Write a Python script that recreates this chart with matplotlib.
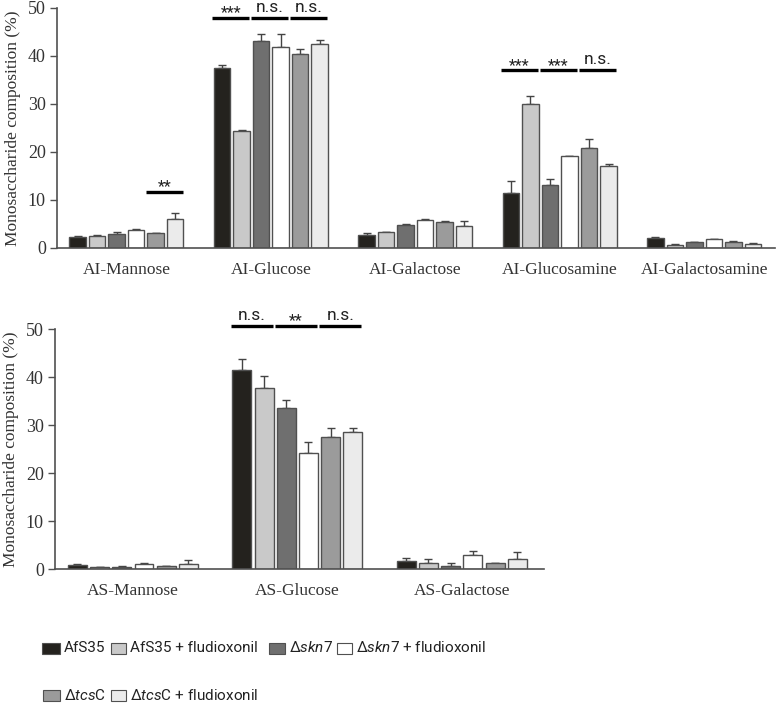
import matplotlib
matplotlib.use("Agg")
import matplotlib.pyplot as plt
import numpy as np
from matplotlib.patches import Rectangle

# ---- data ----
strains = ["AfS35", "AfS35 + fludioxonil", "Δskn7", "Δskn7 + fludioxonil",
           "ΔtcsC", "ΔtcsC + fludioxonil"]
strain_labels = ["AfS35", "AfS35 + fludioxonil", r"Δ$\it{skn}$7",
                 r"Δ$\it{skn}$7 + fludioxonil", r"Δ$\it{tcs}$C",
                 r"Δ$\it{tcs}$C + fludioxonil"]
colors = ["#24221e", "#c9c9c9", "#6f6f6f", "#ffffff", "#9b9b9b", "#ebebeb"]

ai_sugars = ["AI-Mannose", "AI-Glucose", "AI-Galactose", "AI-Glucosamine",
             "AI-Galactosamine"]
ai_mean = [[2.3, 2.4, 2.9, 3.7, 3.05, 6.1],
           [37.5, 24.3, 43.1, 41.9, 40.4, 42.4],
           [2.8, 3.3, 4.85, 5.75, 5.4, 4.6],
           [11.4, 30.0, 13.2, 19.1, 20.8, 17.1],
           [2.15, 0.7, 1.2, 1.9, 1.2, 0.9]]
ai_err = [[0.1, 0.3, 0.5, 0.2, 0.15, 1.25],
          [0.6, 0.2, 1.4, 2.7, 1.1, 1.0],
          [0.4, 0.05, 0.15, 0.3, 0.3, 1.0],
          [2.6, 1.6, 1.2, 0.15, 1.9, 0.3],
          [0.2, 0.1, 0.1, 0.07, 0.2, 0.2]]

as_sugars = ["AS-Mannose", "AS-Glucose", "AS-Galactose"]
as_mean = [[0.83, 0.35, 0.5, 1.0, 0.6, 1.05],
           [41.5, 37.8, 33.6, 24.2, 27.4, 28.5],
           [1.6, 1.25, 0.7, 2.85, 1.25, 2.1]]
as_err = [[0.3, 0.05, 0.15, 0.25, 0.1, 0.8],
          [2.3, 2.4, 1.7, 2.3, 2.0, 0.9],
          [0.6, 0.8, 0.5, 0.8, 0.1, 1.4]]

# (group, pair, label, height)
ai_sig = [(0, 2, "**", 11.7), (1, 0, "***", 47.9), (1, 1, "n.s.", 47.9),
          (1, 2, "n.s.", 47.9), (3, 0, "***", 37.0), (3, 1, "***", 37.0),
          (3, 2, "n.s.", 37.0)]
as_sig = [(1, 0, "n.s.", 50.6), (1, 1, "**", 50.6), (1, 2, "n.s.", 50.6)]

plt.rcParams["mathtext.fontset"] = "custom"
plt.rcParams["mathtext.it"] = "Roboto:italic"
plt.rcParams["mathtext.rm"] = "Roboto"

serif = ["Liberation Serif", "DejaVu Serif"]
sans = ["Roboto", "DejaVu Sans"]
txt = "#333333"
edge = "#505050"

pitch = 0.135
width = 0.115


def draw_panel(ax, sugars, mean, err, sig, xlim):
    mean = np.array(mean)
    err = np.array(err)
    centers = np.arange(len(sugars))
    for j in range(len(strains)):
        x = centers + (j - 2.5) * pitch
        ax.bar(x, mean[:, j], width=width, color=colors[j], edgecolor=edge,
               linewidth=1.0, zorder=2)
        ax.errorbar(x, mean[:, j], yerr=[np.zeros(len(x)), err[:, j]],
                    fmt="none", ecolor="#444444", elinewidth=1.0,
                    capsize=3, capthick=1.0, zorder=1)
    for g, p, lab, h in sig:
        mid = g + (2 * p - 2) * pitch - 0.008
        half = 0.128
        ax.plot([mid - half, mid + half], [h, h], color="black", lw=2.4,
                clip_on=False, solid_capstyle="butt")
        if "*" in lab:
            fs, off = 11.5, 0.5
        else:
            fs, off = 12.5, 4.5
        ax.annotate(lab, (mid, h), xytext=(0, off), textcoords="offset points",
                    ha="center", va="baseline", fontsize=fs, family=sans,
                    color="#222222", annotation_clip=False)
    ax.set_xlim(*xlim)
    ax.set_ylim(0, 50)
    ax.set_yticks([0, 10, 20, 30, 40, 50])
    ax.set_xticks(centers)
    ax.set_xticklabels(sugars, family=serif, fontsize=12.5, color=txt)
    ax.tick_params(axis="x", length=0, pad=10)
    ax.tick_params(axis="y", length=5, width=1.0, color=edge, labelsize=13,
                   labelcolor=txt, pad=3)
    for t in ax.get_yticklabels():
        t.set_family(serif)
    for s in ["top", "right"]:
        ax.spines[s].set_visible(False)
    for s in ["left", "bottom"]:
        ax.spines[s].set_color(edge)
        ax.spines[s].set_linewidth(1.2)
    ax.set_ylabel("Monosaccharide composition (%)", family=serif, fontsize=12.5,
                  color=txt, labelpad=5)


fig = plt.figure(figsize=(7.77, 7.03), dpi=100)
ax1 = fig.add_axes([57 / 777, 1 - 248 / 703, (775 - 57) / 777, 240 / 703])
ax2 = fig.add_axes([55 / 777, 1 - 569 / 703, (544 - 55) / 777, 240 / 703])

draw_panel(ax1, ai_sugars, ai_mean, ai_err, ai_sig, (-0.48, 4.49))
draw_panel(ax2, as_sugars, as_mean, as_err, as_sig, (-0.474, 2.5))

# ---- legend, laid out by hand like the original ----
leg_pos = [(42, 648, 18), (111, 648, 15), (269, 648, 16), (337, 648, 15),
           (43, 695, 17), (111, 695, 15)]
W, H = 777.0, 703.0
for j, (px, py, pw) in enumerate(leg_pos):
    fig.patches.append(Rectangle((px / W, (H - py - 5.5) / H), pw / W, 11 / H,
                                 transform=fig.transFigure, facecolor=colors[j],
                                 edgecolor=edge, linewidth=0.8))
    fig.text((px + pw + 4) / W, (H - py) / H, strain_labels[j], family=sans,
             fontsize=11, color="#222222", va="center", ha="left")

fig.savefig("out.png", dpi=100)
